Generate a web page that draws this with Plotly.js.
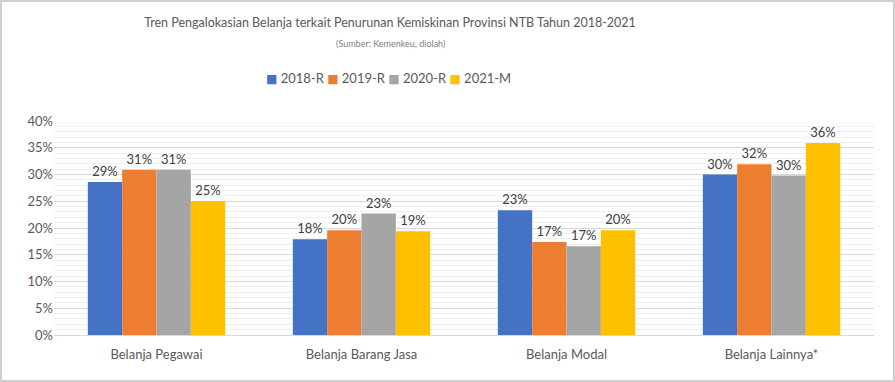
<!DOCTYPE html>
<html>
<head>
<meta charset="utf-8">
<script src="https://cdn.plot.ly/plotly-3.0.1.min.js"></script>
<style>
html,body{margin:0;padding:0;background:#fff;}
#wrap{position:relative;width:895px;height:382px;}
#chart{width:895px;height:382px;}
#frame{position:absolute;left:0;top:0;width:895px;height:382px;box-sizing:border-box;border:2px solid #d0d0d0;pointer-events:none;}
</style>
</head>
<body>
<div id="wrap"><div id="chart"></div><div id="frame"></div></div>
<script>
const categories = ["Belanja Pegawai", "Belanja Barang Jasa", "Belanja Modal", "Belanja Lainnya*"];
const seriesNames = ["2018-R", "2019-R", "2020-R", "2021-M"];
const v2018 = [0.286, 0.179, 0.233, 0.300];
const v2019 = [0.309, 0.196, 0.174, 0.319];
const v2020 = [0.309, 0.227, 0.166, 0.298];
const v2021 = [0.250, 0.194, 0.196, 0.359];
const colors = ["#4472C4", "#ED7D31", "#A5A5A5", "#FFC000"];
const allValues = [v2018, v2019, v2020, v2021];

const FONT = "Lato, 'Open Sans', sans-serif";
const traces = allValues.map((vals, i) => ({
  type: "bar",
  name: seriesNames[i],
  x: categories,
  y: vals,
  marker: {color: colors[i]},
  texttemplate: "%{y:.0%}",
  textposition: "outside",
  cliponaxis: false,
  textfont: {family: FONT, size: 13, color: "#404040"},
  hoverinfo: "skip",
  showlegend: false
}));

// Compact legend (Excel style) built from the series names and colours
const legendText = seriesNames.map((n, i) =>
  '<span style="color:' + colors[i] + ';font-family:DejaVu Sans;font-size:12px">■</span> ' + n
).join(' ');

// plot area: x 54..874, y 121..335 (pixels)
const pxX = px => (px - 54) / 820;
const pxY = py => (335 - py) / 214;

const layout = {
  width: 895, height: 382,
  margin: {l: 54, r: 21, t: 121, b: 47},
  paper_bgcolor: "#fff", plot_bgcolor: "#fff",
  barmode: "group",
  bargap: 0.33,
  bargroupgap: 0,
  showlegend: false,
  title: {
    text: "Tren Pengalokasian Belanja terkait Penurunan Kemiskinan Provinsi NTB Tahun 2018-2021",
    font: {family: FONT, size: 12.5, color: "#595959"},
    x: 390/895, xanchor: "center", xref: "container",
    y: 1 - 23/382, yanchor: "middle", yref: "container"
  },
  annotations: [{
    text: "(Sumber: Kemenkeu, diolah)",
    xref: "paper", yref: "paper",
    x: pxX(390), y: pxY(43), xanchor: "center", yanchor: "middle",
    showarrow: false,
    font: {family: FONT, size: 9, color: "#7f7f7f"}
  }, {
    text: legendText,
    xref: "paper", yref: "paper",
    x: pxX(388), y: pxY(78), xanchor: "center", yanchor: "middle",
    showarrow: false,
    font: {family: FONT, size: 13, color: "#595959"}
  }],
  xaxis: {
    type: "category",
    showgrid: false,
    showline: false,
    ticks: "",
    tickfont: {family: FONT, size: 13, color: "#595959"},
    ticklabelstandoff: 10
  },
  yaxis: {
    range: [0, 0.4],
    dtick: 0.05,
    tick0: 0,
    tickformat: ".0%",
    showgrid: true,
    gridcolor: "#d9d9d9",
    gridwidth: 1,
    zeroline: true,
    zerolinecolor: "#d9d9d9",
    zerolinewidth: 1,
    showline: false,
    ticks: "",
    tickfont: {family: FONT, size: 13, color: "#595959"},
    minor: {dtick: 0.01, showgrid: true, gridcolor: "#efefef", gridwidth: 1, ticks: ""}
  }
};

Plotly.newPlot("chart", traces, layout, {displayModeBar: false, staticPlot: true});
</script>
</body>
</html>
